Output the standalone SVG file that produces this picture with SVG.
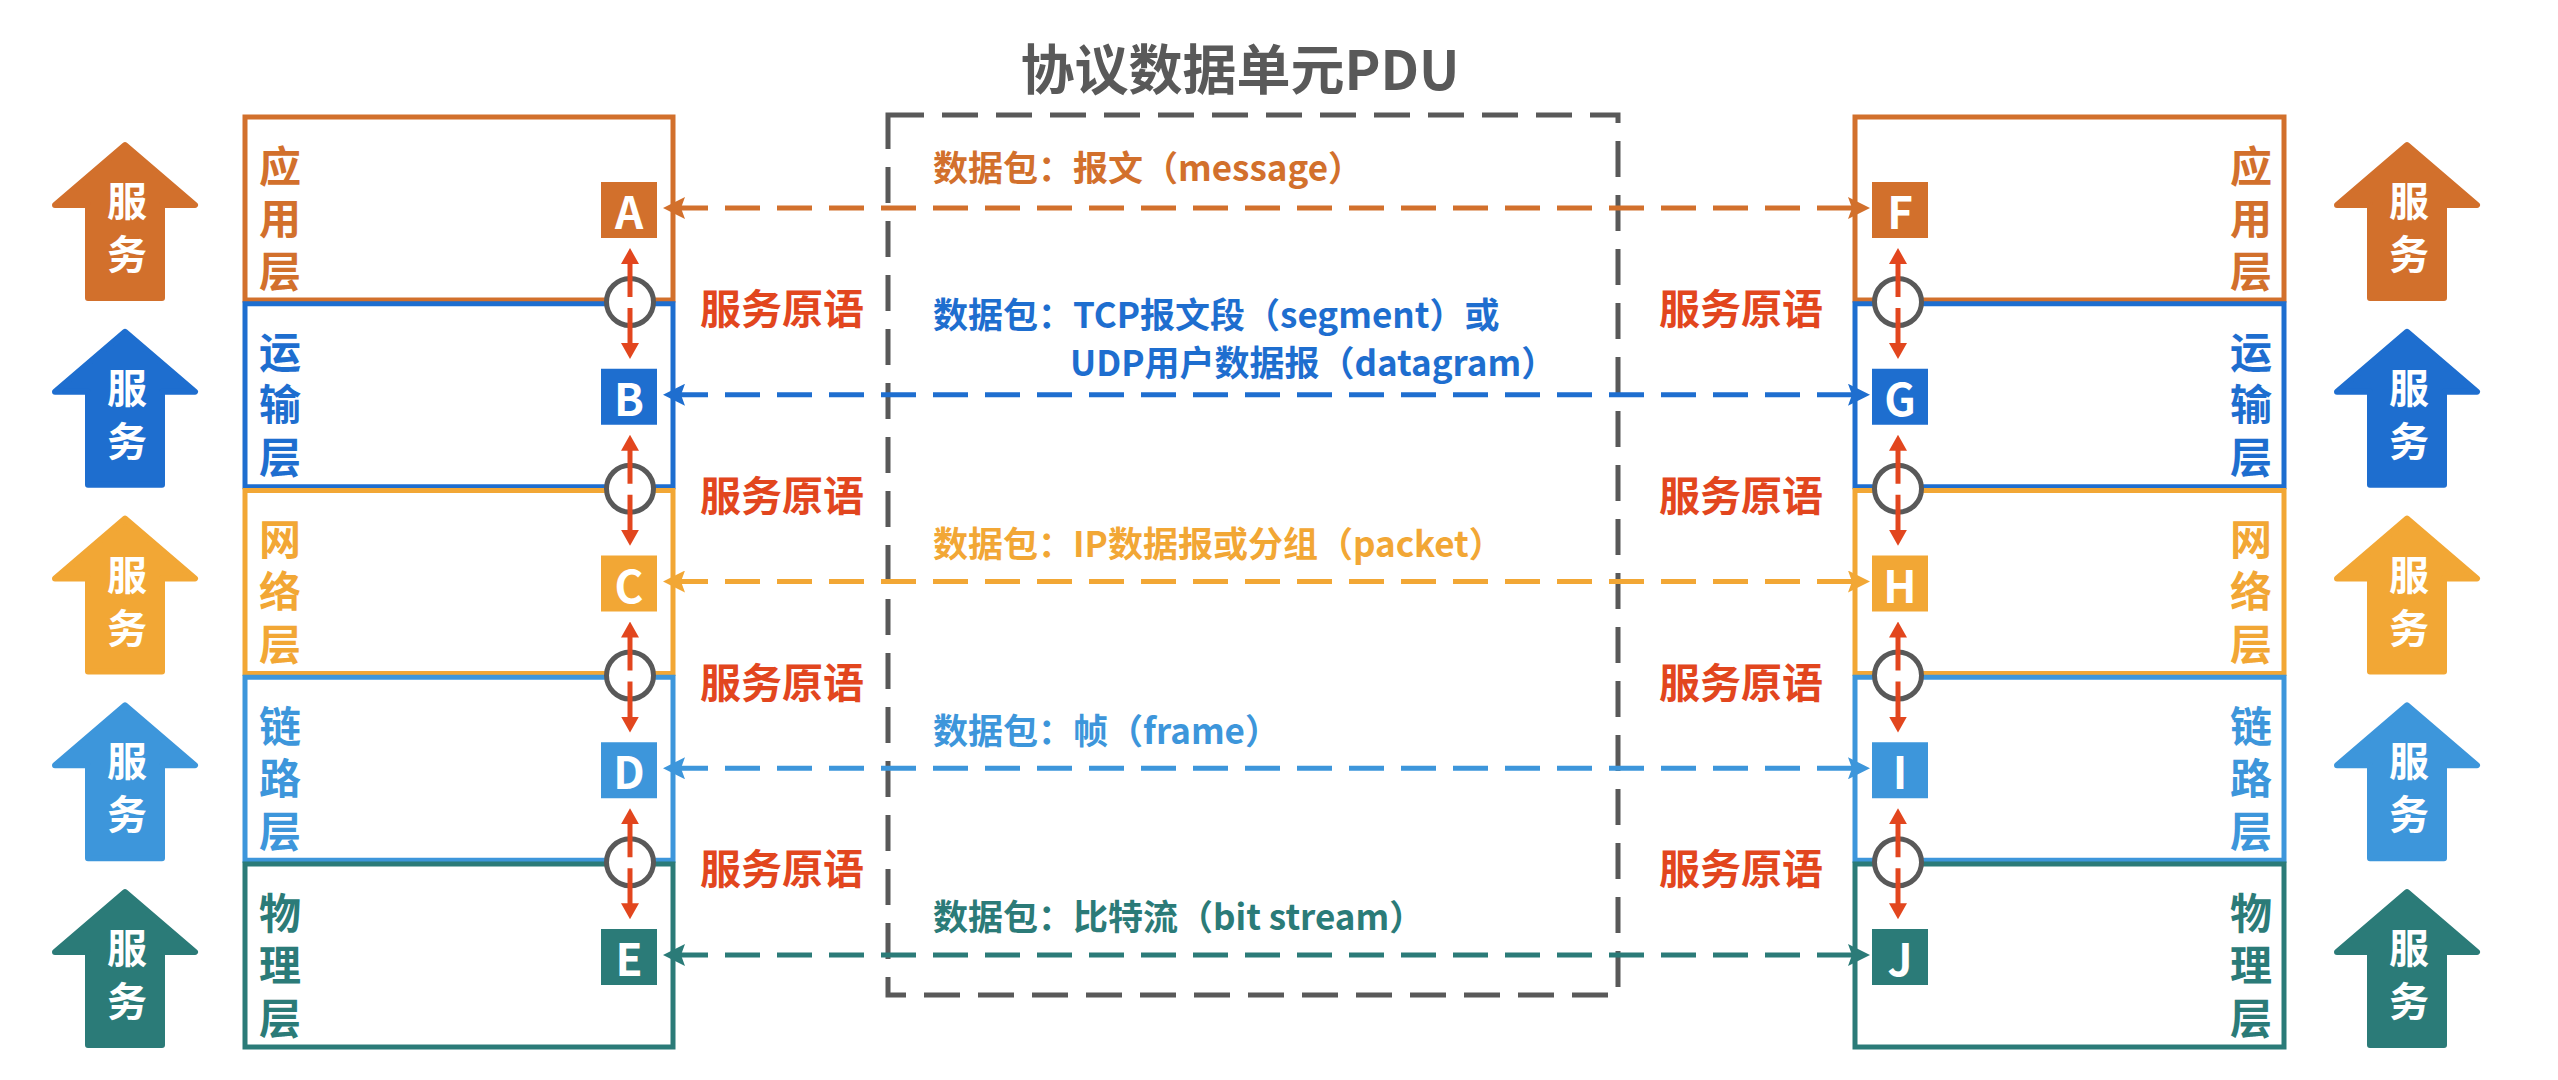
<svg xmlns="http://www.w3.org/2000/svg" width="2558" height="1080" viewBox="0 0 2558 1080">
<style>
text{font-family:"Noto Sans CJK SC","Noto Sans",sans-serif;font-weight:bold;dominant-baseline:central}
.box{fill:none;stroke-width:5}
.lbl{font-size:42px;text-anchor:middle}
.svc{font-size:40px;fill:#fff;text-anchor:middle}
.node-t{font-size:44px;fill:#fff;text-anchor:middle}
.prim{font-size:41px;fill:#E2461E}
.pdu{font-size:35px}
.conn{fill:none;stroke-width:5;stroke-dasharray:35 17}
.red{fill:none;stroke:#E2461E;stroke-width:5}
.ring{fill:#fff;stroke:#595959;stroke-width:5}
.c0{fill:#D2702C}.s0{stroke:#D2702C}
.c1{fill:#1E6ECF}.s1{stroke:#1E6ECF}
.c2{fill:#F2A735}.s2{stroke:#F2A735}
.c3{fill:#3D96DB}.s3{stroke:#3D96DB}
.c4{fill:#2B7B78}.s4{stroke:#2B7B78}
.arrow{stroke-width:6;stroke-linejoin:round}
</style>
<defs>
<marker id="m0" markerUnits="userSpaceOnUse" viewBox="0 0 22 22" refX="12" refY="11" markerWidth="22" markerHeight="22" orient="auto-start-reverse"><path d="M0,0 L22,11 L0,22 L4,11 z" fill="#D2702C"/></marker>
<marker id="m1" markerUnits="userSpaceOnUse" viewBox="0 0 22 22" refX="12" refY="11" markerWidth="22" markerHeight="22" orient="auto-start-reverse"><path d="M0,0 L22,11 L0,22 L4,11 z" fill="#1E6ECF"/></marker>
<marker id="m2" markerUnits="userSpaceOnUse" viewBox="0 0 22 22" refX="12" refY="11" markerWidth="22" markerHeight="22" orient="auto-start-reverse"><path d="M0,0 L22,11 L0,22 L4,11 z" fill="#F2A735"/></marker>
<marker id="m3" markerUnits="userSpaceOnUse" viewBox="0 0 22 22" refX="12" refY="11" markerWidth="22" markerHeight="22" orient="auto-start-reverse"><path d="M0,0 L22,11 L0,22 L4,11 z" fill="#3D96DB"/></marker>
<marker id="m4" markerUnits="userSpaceOnUse" viewBox="0 0 22 22" refX="12" refY="11" markerWidth="22" markerHeight="22" orient="auto-start-reverse"><path d="M0,0 L22,11 L0,22 L4,11 z" fill="#2B7B78"/></marker>
<marker id="mr" markerUnits="userSpaceOnUse" viewBox="0 0 16 18" refX="8" refY="9" markerWidth="16" markerHeight="18" orient="auto-start-reverse"><path d="M0,0 L16,9 L0,18 z" fill="#E2461E"/></marker>
<path id="up" d="M0,0 L70,60 L37,60 L37,153 L-37,153 L-37,60 L-70,60 Z"/>
</defs>

<text id="title" x="1240" y="66" text-anchor="middle" font-size="54" fill="#595959">协议数据单元PDU</text>

<g id="pdu-frame"><rect x="888" y="115" width="730" height="880" fill="none" stroke="#595959" stroke-width="5" stroke-dasharray="36 18"/></g>

<!-- left service arrows -->
<g id="svc-left-0"><use href="#up" x="125" y="145" class="c0 s0 arrow"/><text class="svc" x="127" y="199">服</text><text class="svc" x="127" y="252">务</text></g>
<g id="svc-left-1"><use href="#up" x="125" y="331.75" class="c1 s1 arrow"/><text class="svc" x="127" y="385.75">服</text><text class="svc" x="127" y="438.75">务</text></g>
<g id="svc-left-2"><use href="#up" x="125" y="518.5" class="c2 s2 arrow"/><text class="svc" x="127" y="572.5">服</text><text class="svc" x="127" y="625.5">务</text></g>
<g id="svc-left-3"><use href="#up" x="125" y="705.25" class="c3 s3 arrow"/><text class="svc" x="127" y="759.25">服</text><text class="svc" x="127" y="812.25">务</text></g>
<g id="svc-left-4"><use href="#up" x="125" y="892" class="c4 s4 arrow"/><text class="svc" x="127" y="946">服</text><text class="svc" x="127" y="999">务</text></g>

<!-- right service arrows -->
<g id="svc-right-0"><use href="#up" x="2407" y="145" class="c0 s0 arrow"/><text class="svc" x="2409" y="199">服</text><text class="svc" x="2409" y="252">务</text></g>
<g id="svc-right-1"><use href="#up" x="2407" y="331.75" class="c1 s1 arrow"/><text class="svc" x="2409" y="385.75">服</text><text class="svc" x="2409" y="438.75">务</text></g>
<g id="svc-right-2"><use href="#up" x="2407" y="518.5" class="c2 s2 arrow"/><text class="svc" x="2409" y="572.5">服</text><text class="svc" x="2409" y="625.5">务</text></g>
<g id="svc-right-3"><use href="#up" x="2407" y="705.25" class="c3 s3 arrow"/><text class="svc" x="2409" y="759.25">服</text><text class="svc" x="2409" y="812.25">务</text></g>
<g id="svc-right-4"><use href="#up" x="2407" y="892" class="c4 s4 arrow"/><text class="svc" x="2409" y="946">服</text><text class="svc" x="2409" y="999">务</text></g>

<!-- left layers -->
<g id="left-app"><rect class="box s0" x="245" y="117" width="428" height="183"/><text class="lbl c0" x="280" y="163">应</text><text class="lbl c0" x="280" y="215">用</text><text class="lbl c0" x="280" y="268">层</text></g>
<g id="left-transport"><rect class="box s1" x="245" y="303.75" width="428" height="183"/><text class="lbl c1" x="280" y="349.75">运</text><text class="lbl c1" x="280" y="401.75">输</text><text class="lbl c1" x="280" y="454.75">层</text></g>
<g id="left-network"><rect class="box s2" x="245" y="490.5" width="428" height="183"/><text class="lbl c2" x="280" y="536.5">网</text><text class="lbl c2" x="280" y="588.5">络</text><text class="lbl c2" x="280" y="641.5">层</text></g>
<g id="left-link"><rect class="box s3" x="245" y="677.25" width="428" height="183"/><text class="lbl c3" x="280" y="723.25">链</text><text class="lbl c3" x="280" y="775.25">路</text><text class="lbl c3" x="280" y="828.25">层</text></g>
<g id="left-physical"><rect class="box s4" x="245" y="864" width="428" height="183"/><text class="lbl c4" x="280" y="910">物</text><text class="lbl c4" x="280" y="962">理</text><text class="lbl c4" x="280" y="1015">层</text></g>

<!-- right layers -->
<g id="right-app"><rect class="box s0" x="1855" y="117" width="429" height="183"/><text class="lbl c0" x="2251" y="163">应</text><text class="lbl c0" x="2251" y="215">用</text><text class="lbl c0" x="2251" y="268">层</text></g>
<g id="right-transport"><rect class="box s1" x="1855" y="303.75" width="429" height="183"/><text class="lbl c1" x="2251" y="349.75">运</text><text class="lbl c1" x="2251" y="401.75">输</text><text class="lbl c1" x="2251" y="454.75">层</text></g>
<g id="right-network"><rect class="box s2" x="1855" y="490.5" width="429" height="183"/><text class="lbl c2" x="2251" y="536.5">网</text><text class="lbl c2" x="2251" y="588.5">络</text><text class="lbl c2" x="2251" y="641.5">层</text></g>
<g id="right-link"><rect class="box s3" x="1855" y="677.25" width="429" height="183"/><text class="lbl c3" x="2251" y="723.25">链</text><text class="lbl c3" x="2251" y="775.25">路</text><text class="lbl c3" x="2251" y="828.25">层</text></g>
<g id="right-physical"><rect class="box s4" x="1855" y="864" width="429" height="183"/><text class="lbl c4" x="2251" y="910">物</text><text class="lbl c4" x="2251" y="962">理</text><text class="lbl c4" x="2251" y="1015">层</text></g>

<!-- PDU labels -->
<g id="pdu-labels">
<text class="pdu c0" x="933" y="165">数据包：报文（message）</text>
<text class="pdu c1" x="933" y="312">数据包：TCP报文段（segment）或</text>
<text class="pdu c1" x="1070" y="360">UDP用户数据报（datagram）</text>
<text class="pdu c2" x="933" y="541">数据包：IP数据报或分组（packet）</text>
<text class="pdu c3" x="933" y="728">数据包：帧（frame）</text>
<text class="pdu c4" x="933" y="914">数据包：比特流（bit stream）</text>
</g>

<!-- connectors -->
<g id="connectors">
<line class="conn s0" x1="673" y1="208" x2="1860" y2="208" marker-start="url(#m0)" marker-end="url(#m0)"/>
<line class="conn s1" x1="673" y1="394.75" x2="1860" y2="394.75" marker-start="url(#m1)" marker-end="url(#m1)"/>
<line class="conn s2" x1="673" y1="581.5" x2="1860" y2="581.5" marker-start="url(#m2)" marker-end="url(#m2)"/>
<line class="conn s3" x1="673" y1="768.25" x2="1860" y2="768.25" marker-start="url(#m3)" marker-end="url(#m3)"/>
<line class="conn s4" x1="673" y1="955" x2="1860" y2="955" marker-start="url(#m4)" marker-end="url(#m4)"/>
</g>

<!-- service primitive interfaces -->
<g id="primitives">
<circle class="ring" cx="630" cy="302" r="23.5"/>
<line class="red" x1="630" y1="256" x2="630" y2="297" marker-start="url(#mr)"/><line class="red" x1="630" y1="308" x2="630" y2="351" marker-end="url(#mr)"/>
<circle class="ring" cx="630" cy="488.75" r="23.5"/>
<line class="red" x1="630" y1="442.75" x2="630" y2="483.75" marker-start="url(#mr)"/><line class="red" x1="630" y1="494.75" x2="630" y2="537.75" marker-end="url(#mr)"/>
<circle class="ring" cx="630" cy="675.5" r="23.5"/>
<line class="red" x1="630" y1="629.5" x2="630" y2="670.5" marker-start="url(#mr)"/><line class="red" x1="630" y1="681.5" x2="630" y2="724.5" marker-end="url(#mr)"/>
<circle class="ring" cx="630" cy="862.25" r="23.5"/>
<line class="red" x1="630" y1="816.25" x2="630" y2="857.25" marker-start="url(#mr)"/><line class="red" x1="630" y1="868.25" x2="630" y2="911.25" marker-end="url(#mr)"/>

<circle class="ring" cx="1898" cy="302" r="23.5"/>
<line class="red" x1="1898" y1="256" x2="1898" y2="297" marker-start="url(#mr)"/><line class="red" x1="1898" y1="308" x2="1898" y2="351" marker-end="url(#mr)"/>
<circle class="ring" cx="1898" cy="488.75" r="23.5"/>
<line class="red" x1="1898" y1="442.75" x2="1898" y2="483.75" marker-start="url(#mr)"/><line class="red" x1="1898" y1="494.75" x2="1898" y2="537.75" marker-end="url(#mr)"/>
<circle class="ring" cx="1898" cy="675.5" r="23.5"/>
<line class="red" x1="1898" y1="629.5" x2="1898" y2="670.5" marker-start="url(#mr)"/><line class="red" x1="1898" y1="681.5" x2="1898" y2="724.5" marker-end="url(#mr)"/>
<circle class="ring" cx="1898" cy="862.25" r="23.5"/>
<line class="red" x1="1898" y1="816.25" x2="1898" y2="857.25" marker-start="url(#mr)"/><line class="red" x1="1898" y1="868.25" x2="1898" y2="911.25" marker-end="url(#mr)"/>

<text class="prim" x="700" y="306">服务原语</text>
<text class="prim" x="700" y="492.75">服务原语</text>
<text class="prim" x="700" y="679.5">服务原语</text>
<text class="prim" x="700" y="866.25">服务原语</text>
<text class="prim" x="1659" y="306">服务原语</text>
<text class="prim" x="1659" y="492.75">服务原语</text>
<text class="prim" x="1659" y="679.5">服务原语</text>
<text class="prim" x="1659" y="866.25">服务原语</text>
</g>

<!-- nodes -->
<g id="node-A"><rect class="c0" x="601" y="182" width="56" height="56"/><text class="node-t" x="629" y="210">A</text></g>
<g id="node-B"><rect class="c1" x="601" y="368.75" width="56" height="56"/><text class="node-t" x="629" y="396.75">B</text></g>
<g id="node-C"><rect class="c2" x="601" y="555.5" width="56" height="56"/><text class="node-t" x="629" y="583.5">C</text></g>
<g id="node-D"><rect class="c3" x="601" y="742.25" width="56" height="56"/><text class="node-t" x="629" y="770.25">D</text></g>
<g id="node-E"><rect class="c4" x="601" y="929" width="56" height="56"/><text class="node-t" x="629" y="957">E</text></g>
<g id="node-F"><rect class="c0" x="1872" y="182" width="56" height="56"/><text class="node-t" x="1900" y="210">F</text></g>
<g id="node-G"><rect class="c1" x="1872" y="368.75" width="56" height="56"/><text class="node-t" x="1900" y="396.75">G</text></g>
<g id="node-H"><rect class="c2" x="1872" y="555.5" width="56" height="56"/><text class="node-t" x="1900" y="583.5">H</text></g>
<g id="node-I"><rect class="c3" x="1872" y="742.25" width="56" height="56"/><text class="node-t" x="1900" y="770.25">I</text></g>
<g id="node-J"><rect class="c4" x="1872" y="929" width="56" height="56"/><text class="node-t" x="1900" y="957">J</text></g>
</svg>
